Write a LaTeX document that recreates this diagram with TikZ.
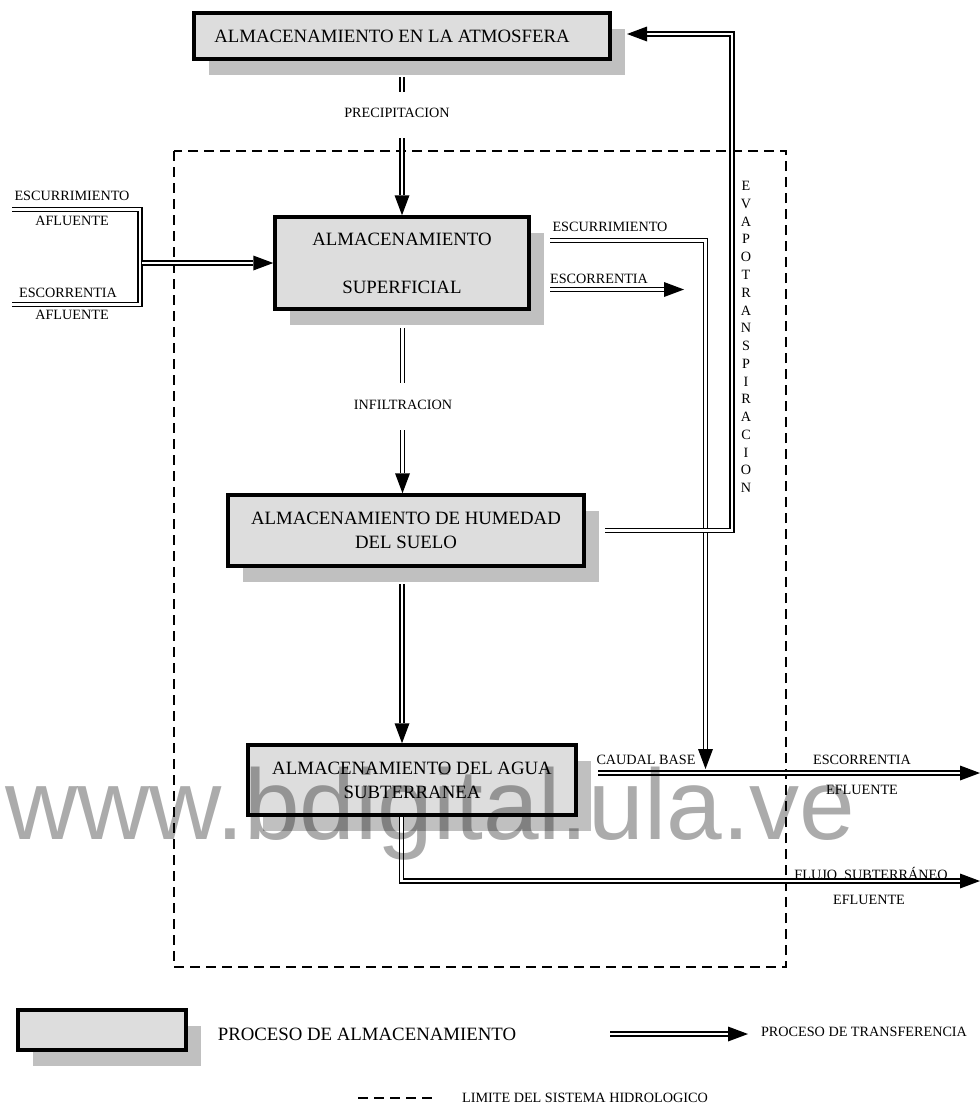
\documentclass[tikz,border=0pt]{standalone}
\usepackage{fontspec}
\setmainfont{Liberation Serif}
\newfontfamily\wmfont{Liberation Sans}
\usetikzlibrary{arrows.meta,shadows}
\definecolor{boxgray}{HTML}{DDDDDD}
\definecolor{shadowgray}{HTML}{C0C0C0}
\begin{document}
\begin{tikzpicture}[x=1pt,y=-1pt,
  stor/.style={draw=black, line width=3.5pt, fill=boxgray, align=center, inner sep=0pt,
    font=\fontsize{18.8}{24}\selectfont,
    drop shadow={shadow xshift=15pt, shadow yshift=-16pt, fill=shadowgray, opacity=1}},
  lab/.style={font=\fontsize{14.2}{16}\selectfont, inner sep=0pt},
  xfer/.style={double=white, double distance=2.4pt, line width=1.6pt},
  arr/.style={-{Triangle[length=20pt,width=15pt,line width=0pt]}},
  limit/.style={dash pattern=on 10pt off 6pt, line width=1.7pt}]
\useasboundingbox (0,0) rectangle (980,1114);
\fill[white] (0,0) rectangle (980,1114);

% boundary
\draw[limit] (174,151) rectangle (786,967);

% storage boxes
\node[stor, minimum width=416, minimum height=46] (atm) at (402,36) {\hspace*{-20pt}ALMACENAMIENTO EN LA ATMOSFERA};
\node[stor, minimum width=254, minimum height=92] (sup) at (402,263) {ALMACENAMIENTO\\[24pt]SUPERFICIAL};
\node[stor, minimum width=356, minimum height=71] (hum) at (406,530.5) {ALMACENAMIENTO DE HUMEDAD\\DEL SUELO};
\node[stor, minimum width=328, minimum height=70] (agua) at (412,780) {ALMACENAMIENTO DEL AGUA\\SUBTERRANEA};

% precipitation
\coordinate (pA) at (402,77);
\coordinate (pB) at (402,92);
\coordinate (pC) at (402,138);
\node[lab] (prec) at (397,113) {PRECIPITACION};
\draw[xfer] (pA) -- (pB);
\draw[xfer,arr] (pC) -- (pC |- sup.north);

% infiltration
\coordinate (iA) at (402.5,328);
\coordinate (iB) at (402.5,383);
\coordinate (iC) at (402.5,430);
\node[lab] (infil) at (403,405) {INFILTRACION};
\draw[xfer] (iA) -- (iB);
\draw[xfer,arr] (iC) -- (iC |- hum.north);

% humidity to groundwater
\coordinate (hA) at (402,584);
\draw[xfer,arr] (hA) -- (hA |- agua.north);

% inflows
\coordinate (l1) at (12,209.5);
\coordinate (l2) at (140,209.5);
\coordinate (l3) at (140,304.5);
\coordinate (l4) at (12,304.5);
\coordinate (l5) at (142,263);
\draw[xfer] (l1) -- (l2) -- (l3) -- (l4);
\draw[xfer,arr] (l5) -- (sup.west);
\node[lab] (esc1) at (72,196) {ESCURRIMIENTO};
\node[lab] (afl1) at (72,221) {AFLUENTE};
\node[lab] (esco1) at (68,293) {ESCORRENTIA};
\node[lab] (afl2) at (72,315) {AFLUENTE};

% outflows from surface
\coordinate (sA) at (550,240.5);
\coordinate (sB) at (705.5,769);
\coordinate (sC) at (550,289.5);
\coordinate (sD) at (684,289.5);
\draw[xfer,arr] (sA) -| (sB);
\draw[xfer,arr] (sC) -- (sD);
\node[lab] (esc2) at (610,227) {ESCURRIMIENTO};
\node[lab] (esco2) at (599,279) {ESCORRENTIA};

% evapotranspiration
\coordinate (eA) at (605,530.5);
\coordinate (eB) at (732,34);
\coordinate (eC) at (627,34);
\draw[xfer,arr] (eA) -| (eB) -- (eC);
\foreach \ch [count=\i from 0] in {E,V,A,P,O,T,R,A,N,S,P,I,R,A,C,I,O,N}
  \node[lab] (ev\i) at (746,{186+\i*17.76}) {\ch};

% base flow and groundwater outflow
\coordinate (cA) at (598,773);
\coordinate (cB) at (980,773);
\draw[xfer,arr] (cA) -- (cB);
\node[lab] (caudal) at (646,760) {CAUDAL BASE};
\node[lab] (esco3) at (862,760) {ESCORRENTIA};
\node[lab] (efl1) at (862,790) {EFLUENTE};
\coordinate (gA) at (401.5,817);
\coordinate (gB) at (401.5,881);
\coordinate (gC) at (980,881);
\draw[xfer,arr] (gA) -- (gB) -- (gC);
\node[lab] (flujo) at (871,873) {FLUJO\ \ SUBTERR\'ANEO};
\node[lab] (efl2) at (869,900) {EFLUENTE};

% legend
\node[stor, minimum width=168, minimum height=40] (leg) at (102,1030) {};
\node[font=\fontsize{18.8}{22}\selectfont, inner sep=0pt] (legt1) at (367,1034) {PROCESO DE ALMACENAMIENTO};
\coordinate (tA) at (610,1034);
\coordinate (tB) at (748,1034);
\draw[xfer,arr] (tA) -- (tB);
\node[lab] (legt2) at (864,1032) {PROCESO DE TRANSFERENCIA};
\coordinate (dA) at (358,1098);
\coordinate (dB) at (432,1098);
\draw[limit] (dA) -- (dB);
\node[lab] (legt3) at (585,1098) {LIMITE DEL SISTEMA HIDROLOGICO};

% watermark
\node[anchor=base west, inner sep=0pt, text=black, text opacity=0.33, font=\wmfont\fontsize{100}{104}\selectfont] (wm) at (5,839) {www.bdigital.ula.ve};
\end{tikzpicture}
\end{document}
